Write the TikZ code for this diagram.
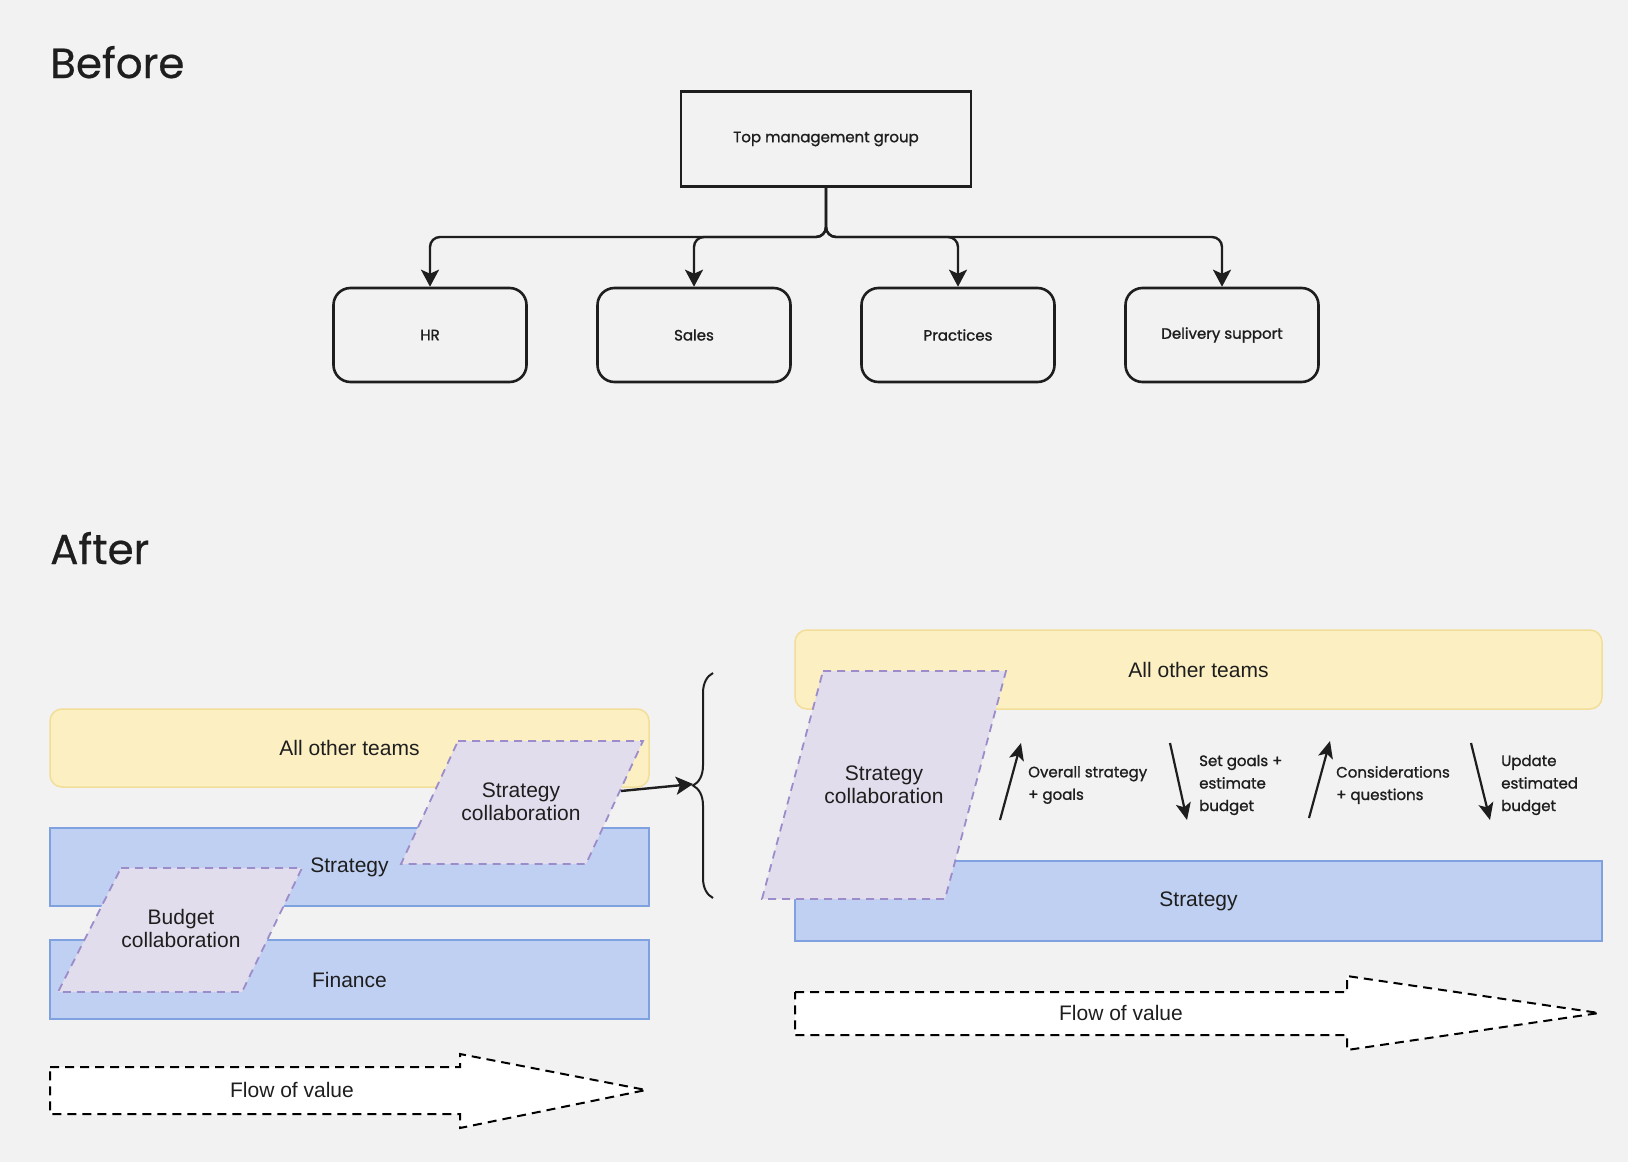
\documentclass[tikz,border=0pt]{standalone}
\usepackage{fontspec}
\setmainfont{Liberation Sans}
\newfontfamily\popfont{Poppins}[FakeBold=0.5]
\newfontfamily\popbold{Poppins}[FakeBold=1.2]
\usetikzlibrary{arrows.meta,decorations.pathreplacing,calc}
\definecolor{bg}{HTML}{F2F2F2}
\definecolor{ylwfill}{HTML}{FCF0C3}
\definecolor{ylwline}{HTML}{F2DE98}
\definecolor{bluefill}{HTML}{BFD0F2}
\definecolor{blueline}{HTML}{7FA1E0}
\definecolor{purpfill}{HTML}{E2DDEC}
\definecolor{purpline}{HTML}{9C8CC9}
\definecolor{ink}{HTML}{1E1E1E}
\tikzset{
  title/.style={anchor=base west, inner sep=0pt, text=ink, font=\popfont\fontsize{42}{48}\selectfont},
  topbox/.style={draw=ink, line width=2.6pt, minimum width=290pt, minimum height=95pt, text=ink, font=\popbold\fontsize{15}{18}\selectfont},
  chartbox/.style={draw=ink, line width=2.6pt, rounded corners=17pt, minimum width=193pt, minimum height=94pt, text=ink, font=\popbold\fontsize{15}{18}\selectfont},
  conn/.style={draw=ink, line width=2.4pt, -{Stealth[length=17pt,width=18pt,inset=4pt]}},
  ylane/.style={draw=ylwline, fill=ylwfill, line width=1.5pt, rounded corners=12pt, text=ink, font=\fontsize{21}{25}\selectfont},
  blane/.style={draw=blueline, fill=bluefill, line width=1.5pt, text=ink, font=\fontsize{21}{25}\selectfont},
  para/.style={draw=purpline, fill=purpfill, line width=1.8pt, dash pattern=on 8pt off 6pt},
  paratext/.style={align=center, text=ink, inner sep=0pt, font=\fontsize{21}{23}\selectfont},
  flow/.style={draw=black, fill=white, line width=2pt, dash pattern=on 9pt off 6pt},
  flowtext/.style={text=ink, inner sep=0pt, font=\fontsize{21}{25}\selectfont},
  small/.style={anchor=west, align=left, inner sep=0pt, text=ink, font=\popbold\fontsize{15}{22.5}\selectfont},
  thin/.style={draw=ink, line width=2.2pt, -{Stealth[length=17pt,width=15pt,inset=4pt]}}
}
\begin{document}
\begin{tikzpicture}[x=1pt,y=-1pt]
\path[fill=bg,use as bounding box] (0,0) rectangle (1628,1162);

% ---------- Before ----------
\node[title] (before) at (50,78) {Before};
\node[topbox] (top) at (826,139) {Top management group};
\node[chartbox] (hr) at (430,335) {HR};
\node[chartbox] (sales) at (694,335) {Sales};
\node[chartbox] (practices) at (958,335) {Practices};
\node[chartbox] (delivery) at (1222,335) {Delivery support};
\coordinate (j) at (826,237);
\foreach \c in {hr,sales,practices,delivery}
  \draw[conn, rounded corners=10pt] (top.south) -- (j) -| (\c.north);

% ---------- After ----------
\node[title] (after) at (50,564) {After};

% left lanes
\node[ylane, minimum width=599pt, minimum height=78pt] (aotL) at (349.5,748) {All other teams};
\node[blane, minimum width=599pt, minimum height=78pt] (stratL) at (349.5,867) {Strategy};
\node[blane, minimum width=599pt, minimum height=79pt] (finL) at (349.5,979.5) {Finance};

\path[para] (121,868) -- (302,868) -- (242,992) -- (58,992) -- cycle;
\node[paratext] (bcL) at (181,928) {Budget\\collaboration};
\path[para] (458,741) -- (643,741) -- (586,864) -- (401,864) -- cycle;
\node[paratext] (scL) at (521,802) {Strategy\\collaboration};

\coordinate (scLout) at (621,791);
\coordinate (bracetip) at (693,784);
\draw[conn] (scLout) -- (bracetip);
\draw[draw=ink, line width=2pt, decorate, decoration={brace, amplitude=20pt, aspect=0.5}] (713,898) -- (713,673);

% left flow
\path[flow] (50,1067) -- (460,1067) -- (460,1054) -- (646,1090) -- (460,1128) -- (460,1114) -- (50,1114) -- cycle;
\node[flowtext] (flowL) at (292,1090) {Flow of value};

% right lanes
\node[ylane, minimum width=807pt, minimum height=79pt] (aotR) at (1198.5,669.5) {All other teams};
\node[blane, minimum width=807pt, minimum height=80pt] (stratR) at (1198.5,901) {Strategy};
\path[para] (823,671) -- (1006,671) -- (945,899) -- (762,899) -- cycle;
\node[paratext] (scR) at (884,785) {Strategy\\collaboration};

\coordinate (a1s) at (1000,820); \coordinate (a1e) at (1021,743);
\coordinate (a2s) at (1170,743); \coordinate (a2e) at (1187,820);
\coordinate (a3s) at (1309,818); \coordinate (a3e) at (1330,741);
\coordinate (a4s) at (1471,743); \coordinate (a4e) at (1490,820);
\draw[thin] (a1s) -- (a1e);
\draw[thin] (a2s) -- (a2e);
\draw[thin] (a3s) -- (a3e);
\draw[thin] (a4s) -- (a4e);
\node[small] (l1) at (1028,785) {Overall strategy\\+ goals};
\node[small] (l2) at (1199,785) {Set goals +\\estimate\\budget};
\node[small] (l3) at (1336,785) {Considerations\\+ questions};
\node[small] (l4) at (1501,785) {Update\\estimated\\budget};

% right flow
\path[flow] (795,992) -- (1347,992) -- (1347,976) -- (1599,1013) -- (1347,1050) -- (1347,1035) -- (795,1035) -- cycle;
\node[flowtext] (flowR) at (1121,1013) {Flow of value};
\end{tikzpicture}
\end{document}
